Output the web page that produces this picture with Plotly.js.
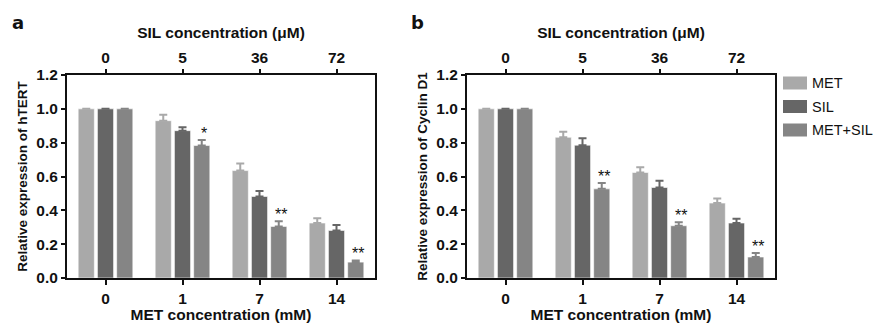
<!DOCTYPE html>
<html><head><meta charset="utf-8">
<script src="https://cdn.plot.ly/plotly-3.0.1.min.js"></script>
<style>html,body{margin:0;padding:0;background:#fff}#chart{width:881px;height:323px}</style>
</head><body><div id="chart"></div>
<script>
// ---- data ----
const metLabels = ['0', '1', '7', '14'];
const silLabels = ['0', '5', '36', '72'];
const seriesNames = ['MET', 'SIL', 'MET+SIL'];

const hTERT_MET = [1.0, 0.93, 0.635, 0.325];
const hTERT_SIL = [1.0, 0.871, 0.482, 0.281];
const hTERT_COMB = [1.0, 0.783, 0.305, 0.094];
const hTERT_MET_err = [0, 0.035, 0.042, 0.028];
const hTERT_SIL_err = [0, 0.02, 0.033, 0.032];
const hTERT_COMB_err = [0, 0.033, 0.03, 0.01];
const hTERT_sig = ['', '*', '**', '**'];

const cyc_MET = [1.0, 0.832, 0.624, 0.443];
const cyc_SIL = [1.0, 0.785, 0.535, 0.325];
const cyc_COMB = [1.0, 0.527, 0.309, 0.124];
const cyc_MET_err = [0, 0.032, 0.03, 0.027];
const cyc_SIL_err = [0, 0.041, 0.04, 0.025];
const cyc_COMB_err = [0, 0.034, 0.02, 0.024];
const cyc_sig = ['', '**', '**', '**'];

// ---- styling ----
const colors = ['#a9a9a9', '#666666', '#858585'];
const F = 'Liberation Sans, Arial, sans-serif';
const W = 881, H = 323;
const xa = [67 / W, 375 / W], xb = [467 / W, 775 / W];
const yd = [1 - 278 / H, 1 - 75 / H];
const idx = metLabels.map((_, i) => i);

function bars(vals, errs, k, xax, yax) {
  return {
    type: 'bar', x: idx, y: vals, name: seriesNames[k], xaxis: xax, yaxis: yax,
    marker: {color: colors[k], line: {color: 'rgba(255,255,255,0.6)', width: 1}},
    error_y: {type: 'data', array: errs, arrayminus: errs.map(() => 0), symmetric: false,
              color: colors[k], thickness: 2, width: 4},
    showlegend: false, hoverinfo: 'skip'
  };
}
const traces = [
  bars(hTERT_MET, hTERT_MET_err, 0, 'x', 'y'),
  bars(hTERT_SIL, hTERT_SIL_err, 1, 'x', 'y'),
  bars(hTERT_COMB, hTERT_COMB_err, 2, 'x', 'y'),
  bars(cyc_MET, cyc_MET_err, 0, 'x3', 'y2'),
  bars(cyc_SIL, cyc_SIL_err, 1, 'x3', 'y2'),
  bars(cyc_COMB, cyc_COMB_err, 2, 'x3', 'y2'),
  {type: 'scatter', x: idx, y: idx.map(() => 0), xaxis: 'x2', yaxis: 'y', mode: 'none', showlegend: false, hoverinfo: 'skip'},
  {type: 'scatter', x: idx, y: idx.map(() => 0), xaxis: 'x4', yaxis: 'y2', mode: 'none', showlegend: false, hoverinfo: 'skip'}
];

const tickF = {family: F, size: 15.5, color: '#111', weight: 'bold'};
const titleF = {family: F, size: 15.5, color: '#111', weight: 'bold'};
function xBottom(dom, anchor) {
  return {domain: dom, anchor: anchor, range: [-0.5, 3.5], tickvals: idx, ticktext: metLabels,
    showline: true, linecolor: '#111', linewidth: 2, mirror: true, ticks: 'outside', ticklen: 5,
    tickwidth: 2, tickcolor: '#111', tickfont: tickF, showgrid: false, zeroline: false,
    title: {text: 'MET concentration (mM)', font: titleF, standoff: 2}, fixedrange: true};
}
function xTop(ov, anchor) {
  return {overlaying: ov, anchor: anchor, side: 'top', range: [-0.5, 3.5], tickvals: idx, ticktext: silLabels,
    showline: false, ticks: 'outside', ticklen: 5, tickwidth: 2, tickcolor: '#111', tickfont: tickF,
    showgrid: false, zeroline: false,
    title: {text: 'SIL concentration (\u03bcM)', font: titleF, standoff: 6}, fixedrange: true};
}
function yAx(anchor, title) {
  return {domain: yd, anchor: anchor, range: [0, 1.2], tickvals: [0, 0.2, 0.4, 0.6, 0.8, 1.0, 1.2],
    ticktext: ['0.0', '0.2', '0.4', '0.6', '0.8', '1.0', '1.2'],
    showline: true, linecolor: '#111', linewidth: 2, mirror: true, ticks: 'outside', ticklen: 4,
    tickwidth: 2, tickcolor: '#111', tickfont: tickF, showgrid: false, zeroline: false,
    title: {text: title, font: {family: F, size: 13.5, color: '#111', weight: 'bold'}, standoff: 6}, fixedrange: true};
}

// significance annotations above third bar
const off = 0.273;
const ann = [];
function sig(marks, vals, errs, xr, yr) {
  marks.forEach((m, i) => {
    if (m) ann.push({x: i + off, y: vals[i] + errs[i], xref: xr, yref: yr, text: m, showarrow: false,
      yanchor: 'bottom', yshift: -4, font: {family: F, size: 16, color: '#111'}});
  });
}
sig(hTERT_sig, hTERT_COMB, hTERT_COMB_err, 'x', 'y');
sig(cyc_sig, cyc_COMB, cyc_COMB_err, 'x3', 'y2');
ann.push({x: 10 / W, y: 1 - 22 / H, xref: 'paper', yref: 'paper', text: 'a', showarrow: false,
  xanchor: 'left', yanchor: 'middle', font: {family: 'DejaVu Sans, sans-serif', size: 18, color: '#111', weight: 'bold'}});
ann.push({x: 409 / W, y: 1 - 22 / H, xref: 'paper', yref: 'paper', text: 'b', showarrow: false,
  xanchor: 'left', yanchor: 'middle', font: {family: 'DejaVu Sans, sans-serif', size: 18, color: '#111', weight: 'bold'}});

// legend (swatch shapes + text)
const shapes = [];
const legY = [83, 106.5, 130];
seriesNames.forEach((n, k) => {
  shapes.push({type: 'rect', xref: 'paper', yref: 'paper', x0: 783 / W, x1: 807 / W,
    y0: 1 - (legY[k] + 6.5) / H, y1: 1 - (legY[k] - 6.5) / H, fillcolor: colors[k], line: {width: 0}});
  ann.push({x: 810 / W, y: 1 - legY[k] / H, xref: 'paper', yref: 'paper', text: n, showarrow: false,
    xanchor: 'left', yanchor: 'middle', font: {family: F, size: 14.5, color: '#111'}});
});

const layout = {
  width: W, height: H, margin: {l: 0, r: 0, t: 0, b: 0}, paper_bgcolor: '#fff', plot_bgcolor: '#fff',
  barmode: 'group', bargap: 0.25, bargroupgap: 0.16, showlegend: false,
  xaxis: xBottom(xa, 'y'), xaxis2: xTop('x', 'y'),
  xaxis3: xBottom(xb, 'y2'), xaxis4: xTop('x3', 'y2'),
  yaxis: yAx('x', 'Relative expression of hTERT'),
  yaxis2: yAx('x3', 'Relative expression of Cyclin D1'),
  annotations: ann, shapes: shapes
};
Plotly.newPlot('chart', traces, layout, {displayModeBar: false, staticPlot: true});
</script></body></html>
